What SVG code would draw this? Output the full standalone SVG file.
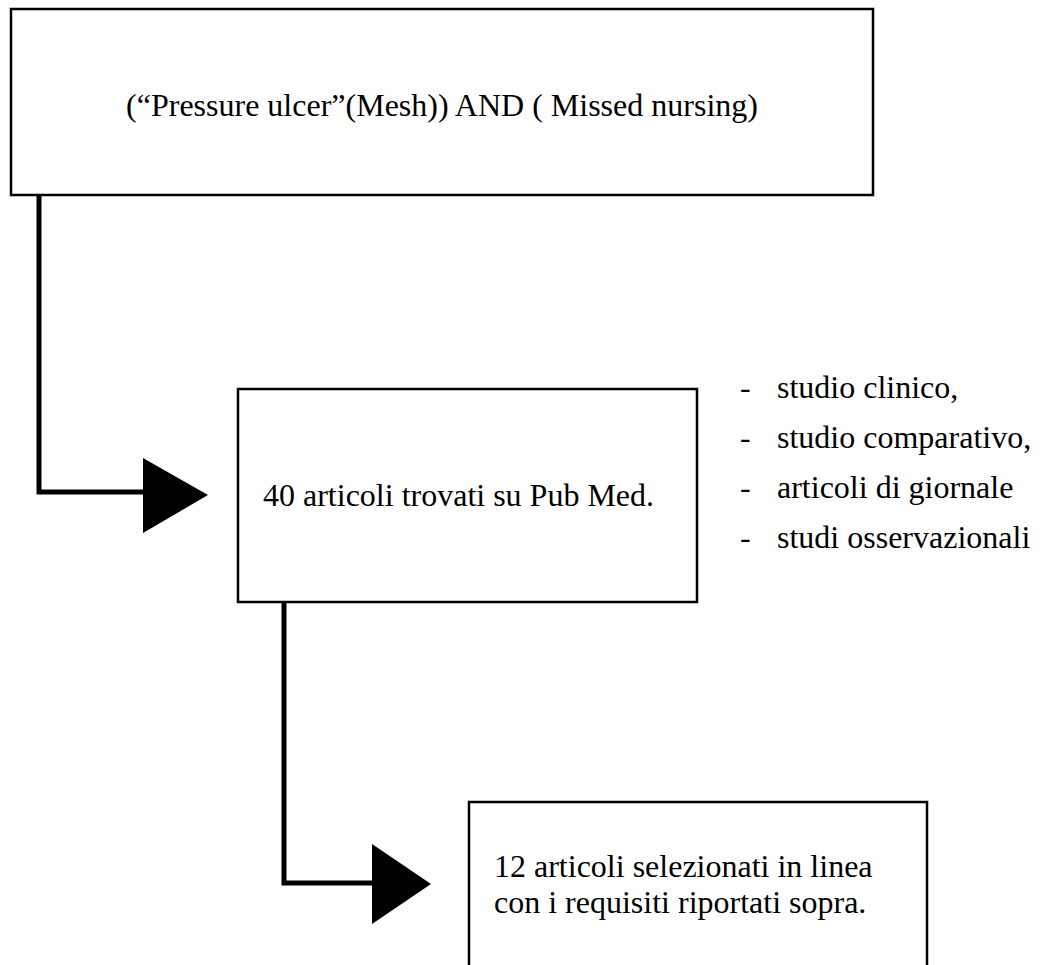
<svg xmlns="http://www.w3.org/2000/svg" width="1044" height="965" viewBox="0 0 1044 965">
<style>
.box{fill:#fff;stroke:#000;stroke-width:2.5}
.t{font-family:"Liberation Serif","Times New Roman",serif;font-size:32px;fill:#000}
.conn{fill:none;stroke:#000;stroke-width:5;stroke-linejoin:miter}
.head{fill:#000}
</style>
<rect width="1044" height="965" fill="#fff"/>
<g id="connectors">
<polyline class="conn" points="39,195 39,492 145,492"/>
<polygon class="head" points="143,458 208,495 143,533"/>
<polyline class="conn" points="284,602 284,883 374,883"/>
<polygon class="head" points="372,844 431,884 372,924"/>
</g>
<g id="node-query">
<rect class="box" x="11" y="9" width="862" height="186"/>
<text class="t" x="442" y="116" text-anchor="middle">(“Pressure ulcer”(Mesh)) AND ( Missed nursing)</text>
</g>
<g id="node-found">
<rect class="box" x="238" y="389" width="459" height="213"/>
<text class="t" x="263" y="506">40 articoli trovati su Pub Med.</text>
</g>
<g id="node-filters">
<text class="t" x="740" y="398">-</text>
<text class="t" x="777" y="398">studio clinico,</text>
<text class="t" x="740" y="448">-</text>
<text class="t" x="777" y="448">studio comparativo,</text>
<text class="t" x="740" y="498">-</text>
<text class="t" x="777" y="498">articoli di giornale</text>
<text class="t" x="740" y="548">-</text>
<text class="t" x="777" y="548">studi osservazionali</text>
</g>
<g id="node-selected">
<rect class="box" x="469" y="802" width="458" height="180"/>
<text class="t" x="494" y="877">12 articoli selezionati in linea</text>
<text class="t" x="494" y="913">con i requisiti riportati sopra.</text>
</g>
</svg>
